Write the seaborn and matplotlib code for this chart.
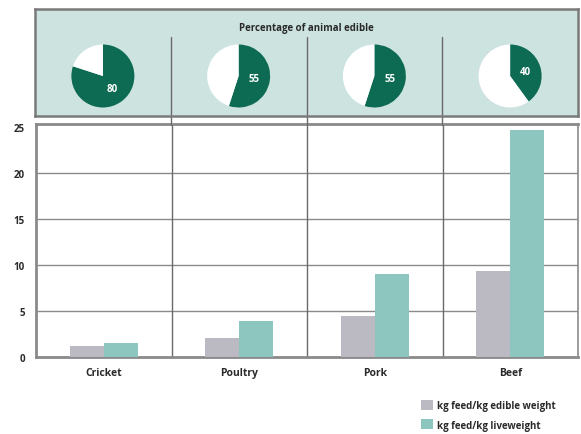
import matplotlib
matplotlib.use("Agg")
import matplotlib.pyplot as plt
import seaborn as sns
import pandas as pd
import numpy as np
from matplotlib.patches import Patch

categories = ["Cricket", "Poultry", "Pork", "Beef"]
edible_weight = [1.2, 2.1, 4.4, 9.3]
liveweight = [1.5, 3.9, 9.0, 24.7]
pct_edible = [80, 55, 55, 40]
series_names = ["kg feed/kg edible weight", "kg feed/kg liveweight"]
yticks = [0, 5, 10, 15, 20, 25]

GREY = "#bbbac2"
TEAL = "#8dc6be"
PANEL = "#cde3e0"
PIE = "#0d6b53"
LINE = "#7a7a7a"
TXT = "#2a2a2a"

sns.set_theme(style="white")
plt.rcParams["font.family"] = ["Open Sans", "DejaVu Sans"]

df = pd.DataFrame({
    "category": categories * 2,
    "value": edible_weight + liveweight,
    "series": [series_names[0]] * 4 + [series_names[1]] * 4,
})

W, H = 581, 435
fig = plt.figure(figsize=(W / 100, H / 100), dpi=100)

def rect(l, t, r, b):
    return [l / W, 1 - b / H, (r - l) / W, (b - t) / H]

# ---- bar axes
ax = fig.add_axes(rect(36, 125, 578, 358))
sns.barplot(data=df, x="category", y="value", hue="series",
            palette=[GREY, TEAL], width=0.5, gap=0, saturation=1,
            edgecolor="none", linewidth=0, ax=ax, legend=False, zorder=3)
ax.set_ylim(0, 25.3)
ax.set_xlim(-0.5, len(categories) - 0.5)
ax.set_yticks(yticks)
ax.set_yticklabels([str(t) for t in yticks], fontsize=7, fontweight="bold", color=TXT)
ax.tick_params(axis="y", length=0, pad=8)
ax.tick_params(axis="x", length=0, pad=7)
for lbl in ax.get_xticklabels():
    lbl.set_fontsize(7.5)
    lbl.set_fontweight("bold")
    lbl.set_color(TXT)
ax.set_xlabel("")
ax.set_ylabel("")
for t in yticks[1:-1]:
    ax.axhline(t, color="#8a8a8a", lw=1.0, zorder=1)
for i in range(len(categories) - 1):
    ax.axvline(i + 0.5, color="#6a6a6a", lw=1.0, zorder=1)
for s in ["left", "bottom", "top", "right"]:
    ax.spines[s].set_visible(True)
    ax.spines[s].set_color("#8a8a8a")
ax.spines["left"].set_linewidth(2.0)
ax.spines["bottom"].set_linewidth(2.0)
ax.spines["top"].set_linewidth(2.0)
ax.spines["right"].set_linewidth(1.2)

# ---- top panel
axt = fig.add_axes(rect(35, 10, 578, 117))
axt.set_facecolor(PANEL)
axt.set_xlim(-0.5, len(categories) - 0.5)
axt.set_ylim(0, 1)
axt.set_xticks([])
axt.set_yticks([])
for s in axt.spines.values():
    s.set_color(LINE)
    s.set_linewidth(1.8)
axt.text(0.5, 1 - (28 - 10) / 107, "Percentage of animal edible", transform=axt.transAxes,
         ha="center", va="center", fontsize=7, fontweight="bold", color=TXT)
for i in range(len(categories) - 1):
    axt.axvline(i + 0.5, ymin=-0.08, ymax=(117 - 38) / 107, color="#6a6a6a", lw=1.0,
                clip_on=False)

# pies
pie_w, pie_h = 63 / 543, 63 / 107
for i, (cat, p) in enumerate(zip(categories, pct_edible)):
    xc = (i + 0.5) / len(categories)
    cy = 1 - (77 - 10) / 107
    pax = axt.inset_axes([xc - pie_w / 2, cy - pie_h / 2, pie_w, pie_h])
    wedges, texts, autot = pax.pie([p, 100 - p], colors=[PIE, "white"],
                                   startangle=90, counterclock=False,
                                   autopct=lambda v: f"{v:.0f}", pctdistance=0.5,
                                   wedgeprops=dict(linewidth=0),
                                   textprops=dict(color="white", fontsize=7,
                                                  fontweight="bold"))
    autot[1].set_visible(False)
    pax.set_aspect("auto")
    pax.set_xlim(-1, 1)
    pax.set_ylim(-1, 1)
    pax.axis("off")

# ---- legend
handles = [Patch(facecolor=GREY, edgecolor="none"),
           Patch(facecolor=TEAL, edgecolor="none")]
leg = fig.legend(handles, series_names, loc="upper left",
                 bbox_to_anchor=(416 / W, 1 - 396 / H), frameon=False,
                 fontsize=7, handlelength=1.2, handleheight=1.2,
                 handletextpad=0.5, labelspacing=0.85, borderpad=0)
for t in leg.get_texts():
    t.set_fontweight("bold")
    t.set_color(TXT)

fig.savefig("out.png", dpi=100)
